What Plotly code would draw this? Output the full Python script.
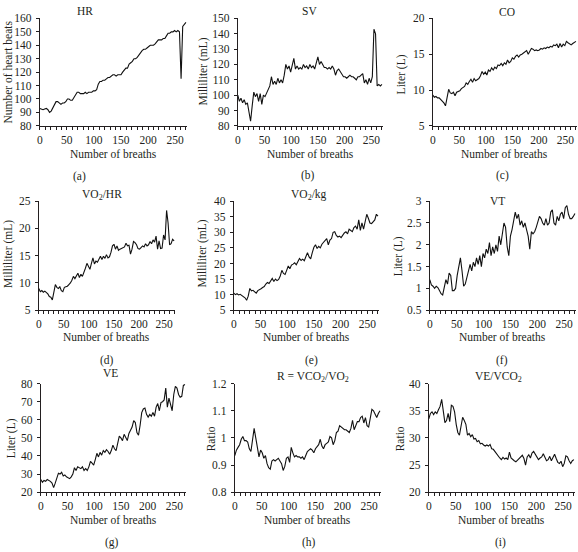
import plotly.graph_objects as go

W, H = 578, 552

BREATHS = list(range(0, 271, 3))

HR = [93, 92.5, 92, 92.5, 93, 92, 90, 91, 93, 96, 98, 98, 97, 96, 97, 97, 98, 100, 100, 99,
      99, 101, 103, 105, 105, 104, 104, 104, 105, 104, 105, 105, 105, 106, 106, 107, 111, 113, 113, 114,
      114, 115, 116, 116, 117, 118, 118, 117, 118, 118, 118, 120, 122, 123, 123, 126, 127, 128, 130, 130,
      131, 133, 135, 136, 137, 137, 138, 139, 140, 140, 140, 141, 143, 144, 144, 144, 145, 145, 147, 149,
      149, 150, 150, 151, 150, 151, 150, 115, 154, 156, 157]

SV = [100, 96, 98, 95, 97, 94, 95, 90, 83, 93, 102, 99, 101, 96, 101, 94, 100, 99, 101, 103,
      106, 112, 107, 109, 107, 111, 108, 110, 108, 113, 120, 117, 119, 115, 119, 124, 117, 119, 117, 118,
      117, 120, 118, 119, 117, 120, 118, 119, 117, 121, 125, 120, 122, 120, 118, 118, 117, 118, 117, 119,
      117, 113, 116, 117, 115, 114, 112, 112, 111, 112, 113, 112, 112, 111, 110, 112, 112, 113, 114, 108,
      110, 107, 111, 108, 112, 143, 140, 106, 107, 106, 107]

CO = [9.3, 9.0, 9.1, 8.9, 8.9, 8.7, 8.5, 8.2, 7.8, 9.0, 10.1, 9.6, 9.5, 9.7, 9.2, 9.7, 9.8, 9.9, 10.2, 10.4,
      10.5, 11.0, 10.8, 11.2, 11.5, 11.1, 11.6, 11.3, 11.4, 11.6, 12.0, 12.6, 12.2, 12.5, 12.1, 12.8, 12.6, 13.1, 12.8, 13.2,
      13.0, 13.5, 13.4, 13.7, 13.4, 13.8, 13.6, 14.2, 13.8, 14.0, 14.5, 14.3, 14.7, 14.9, 14.6, 14.9, 15.0, 15.2, 15.3, 15.5,
      15.0, 15.4, 15.8, 15.7, 15.5, 15.6, 15.5, 15.6, 15.8, 15.7, 15.9, 15.8, 16.0, 15.9, 16.1, 16.0, 16.3, 16.2, 16.4, 15.9,
      16.5, 16.0, 16.4, 16.2, 16.8, 16.6, 16.4, 16.3, 16.5, 16.7, 16.8]

VO2_HR = [9.0, 8.4, 8.6, 8.3, 8.5, 8.2, 8.0, 7.5, 7.4, 6.9, 8.5, 9.7, 9.2, 9.0, 9.3, 8.6, 8.4, 9.2, 9.3, 9.4,
          9.7, 10.0, 10.5, 11.2, 10.8, 11.3, 11.8, 11.0, 11.6, 11.2, 11.8, 12.7, 13.6, 13.0, 12.5, 13.6, 14.6, 13.5, 14.0, 13.8,
          14.3, 14.9, 14.3, 14.9, 14.5, 15.2, 14.6, 14.8, 15.6, 16.8, 17.1, 16.2, 16.8, 16.0, 16.2, 16.3, 16.5, 16.6, 17.3, 16.8,
          16.9, 15.3, 16.2, 17.6, 17.4, 17.0, 16.3, 16.2, 16.5, 16.8, 16.6, 17.2, 16.8, 17.0, 17.6, 17.2, 17.9, 17.5, 18.6, 16.2,
          17.7, 16.3, 16.4, 18.8, 17.9, 23.3, 21.0, 17.0, 17.2, 18.0, 17.7]

VO2_KG = [10.5, 10.0, 10.3, 9.9, 10.1, 9.8, 9.4, 9.0, 8.2, 9.5, 12.0, 11.2, 11.4, 10.8, 10.5, 11.3, 11.5, 11.9, 12.3, 12.6,
          13.4, 13.9, 13.6, 14.5, 15.2, 14.2, 15.0, 14.5, 14.9, 16.0, 17.8, 16.8, 16.5, 17.8, 19.2, 18.3, 19.5, 19.8, 20.2, 19.6,
          20.5, 21.6, 21.0, 21.4, 20.9, 22.0, 23.5, 22.1, 21.5, 23.5, 25.2, 26.0, 24.8, 25.5, 25.0, 26.2, 26.8, 27.5, 28.0, 26.0,
          27.5, 28.0, 30.0, 30.2, 29.0, 28.5, 28.8, 28.3, 29.2, 29.8, 30.2, 29.5, 31.0, 30.5, 30.2, 31.5, 32.0, 31.0, 34.0, 30.6,
          33.0, 31.0, 33.5, 35.8, 34.5, 33.0, 32.8, 33.5, 34.0, 35.8, 35.2]

VT = [1.2, 1.08, 1.05, 1.0, 1.05, 1.02, 0.95, 0.88, 0.85, 1.05, 1.2, 1.1, 1.35, 1.3, 0.95, 0.95, 1.0, 1.3, 1.5, 1.7,
      1.4, 1.05, 1.1, 1.25, 1.45, 1.55, 1.4, 1.6, 1.5, 1.7, 1.55, 1.75, 1.5, 1.8, 1.7, 1.9, 1.8, 2.05, 1.75, 1.95,
      1.8, 2.0, 1.85, 2.2, 2.0, 2.3, 2.5, 2.4, 1.95, 1.75, 2.2, 2.35, 2.6, 2.75, 2.6, 2.7, 2.45, 2.55, 2.4, 2.5,
      2.35, 2.2, 1.9, 2.3, 2.25, 2.3, 2.4, 2.55, 2.65, 2.6, 2.5, 2.45, 2.6, 2.45, 2.5, 2.75, 2.8, 2.5, 2.45, 2.65,
      2.55, 2.7, 2.75, 2.6, 2.85, 2.9, 2.7, 2.6, 2.6, 2.65, 2.72]

VE = [27, 25.5, 26.5, 26, 27, 26.5, 26, 25, 22.5, 25, 28, 30.5, 30, 31, 29, 29.5, 28.5, 28, 27.5, 28.5,
      30, 33.5, 32, 34, 33.5, 33, 34, 32, 33, 32, 34, 37, 36, 35, 38, 41.5, 39.5, 42, 40.5, 43,
      42, 43.5, 42.5, 41, 43, 46, 44, 43, 47, 51, 50, 48.5, 52, 50, 48.5, 52.5, 54, 56, 59.5, 58.5,
      53, 51.5, 57, 64, 66, 66.5, 63, 61.5, 63, 62, 64, 62, 67, 69, 65, 69.5, 70, 71, 77.5, 67,
      72, 68, 65, 74, 78.5, 77.5, 74, 72.5, 73, 79, 79.5]

R = [0.935, 0.955, 0.965, 0.975, 0.995, 1.005, 0.99, 0.99, 0.985, 0.96, 0.95, 0.99, 1.035, 1.0, 0.96, 0.93, 0.955, 0.945, 0.925, 0.935,
     0.905, 0.89, 0.885, 0.915, 0.92, 0.915, 0.92, 0.925, 0.915, 0.905, 0.88, 0.895, 0.925, 0.93, 0.91, 0.965, 0.945, 0.93, 0.935, 0.93,
     0.93, 0.925, 0.93, 0.92, 0.935, 0.95, 0.955, 0.96, 0.955, 0.945, 0.96, 0.97, 0.975, 0.995, 0.97, 0.96, 0.975, 0.98, 0.985, 1.005,
     1.0, 0.975, 0.99, 1.02, 1.025, 1.045, 1.04, 1.035, 1.03, 1.03, 1.025, 1.02, 1.035, 1.065, 1.03, 1.045, 1.06, 1.06, 1.075, 1.08,
     1.055, 1.075, 1.045, 1.04, 1.08, 1.105, 1.1, 1.085, 1.075, 1.09, 1.1]

VE_VCO2 = [33.5, 34.5, 34.8, 34.3, 34.8, 34.5, 35.2, 35.8, 37.1, 35.0, 32.8, 33.2, 34.5, 33.0, 36.0, 35.8, 34.8, 32.5, 31.0, 30.5,
           32.0, 33.8, 33.2, 32.5, 30.5, 30.8, 30.2, 30.6, 29.8, 29.9, 29.3, 29.5, 28.9, 29.0, 28.7, 28.5, 28.7, 28.5, 28.8, 28.0,
           27.9, 27.5, 27.0, 26.5, 26.3, 26.0, 26.4, 26.1, 26.3, 26.0, 27.4, 26.3, 26.0, 25.8, 25.6, 25.9, 26.3, 26.5, 26.8, 26.2,
           25.0, 26.5, 26.9, 26.3, 27.2, 27.5, 27.0, 26.5, 26.0, 26.3, 26.5, 27.1, 26.3, 25.8, 26.0, 26.6, 25.8, 26.3, 27.0, 26.2,
           25.5, 25.3, 25.7, 24.7, 25.3, 26.7, 26.5, 25.8, 25.3, 25.8, 26.0]

TITLES = ["HR", "SV", "CO", "VO<sub>2</sub>/HR", "VO<sub>2</sub>/kg", "VT", "VE",
          "R = VCO<sub>2</sub>/VO<sub>2</sub>", "VE/VCO<sub>2</sub>"]
Y_TITLES = ["Number of heart beats", "Milliliter (mL)", "Liter (L)", "Milliliter (mL)", "Milliliter (mL)",
            "Liter (L)", "Liter (L)", "Ratio", "Ratio"]
X_TITLE = "Number of breaths"
LETTERS = ["(a)", "(b)", "(c)", "(d)", "(e)", "(f)", "(g)", "(h)", "(i)"]
Y_RANGES = [(80, 160, 10), (80, 150, 10), (5, 20, 5), (5, 25, 5), (5, 40, 5), (0.5, 3, 0.5),
            (20, 80, 10), (0.8, 1.2, 0.1), (20, 40, 5)]
SERIES = [HR, SV, CO, VO2_HR, VO2_KG, VT, VE, R, VE_VCO2]

# layout in pixels: (left, right, top, bottom) of plot area
BOXES = [(37, 185, 12.7, 122.5), (236, 382, 12.7, 122.5), (432, 577, 12.7, 122.5),
         (36, 173, 199.5, 311), (232, 378, 199.5, 311), (429, 576, 199.5, 311),
         (38, 184, 386, 497), (233, 380, 386, 497), (428, 575, 386, 497)]
TITLE_POS = [(82, 5), (308, 5), (507, 6), (100, 193), (308, 193), (497, 199), (108, 375), (312, 379), (498, 379)]
LETTER_POS = [(77, 174), (307, 173), (502, 173), (105, 362), (310, 362), (502, 362), (110, 548), (308, 548), (500, 548)]
XT_Y = [151, 151, 151, 338, 338, 338, 525, 525, 525]
YT_POS = [(5, 67), (202, 67), (401, 70), (5.5, 253), (201, 253), (397, 256), (8, 442), (209, 442), (399, 442)]

FONT = "Liberation Serif"
COL = "#231f20"

def px(x):
    return x / W

def py(y):
    return 1 - y / H

fig = go.Figure()
ann = []
for i, ys in enumerate(SERIES):
    assert len(ys) == len(BREATHS), (i, len(ys))
    n = "" if i == 0 else str(i + 1)
    fig.add_trace(go.Scatter(x=BREATHS, y=ys, mode="lines", line=dict(color="#111", width=1.1),
                             xaxis="x" + n, yaxis="y" + n, showlegend=False, hoverinfo="skip"))
    l, r, t, b = BOXES[i]
    lo, hi, dt = Y_RANGES[i]
    fig.layout["xaxis" + n] = dict(domain=[px(l), px(r)], range=[0, 272], anchor="y" + n,
                                    showline=True, linecolor=COL, linewidth=1, showgrid=False, zeroline=False,
                                    tick0=0, dtick=50, ticks="outside", ticklen=3, tickcolor=COL,
                                    ticklabeloverflow="allow",
                                    minor=dict(dtick=10, ticks="outside", ticklen=3, tickcolor=COL),
                                    tickfont=dict(family=FONT, size=11.5, color=COL))
    fig.layout["yaxis" + n] = dict(domain=[py(b), py(t)], range=[lo, hi], anchor="x" + n,
                                    showline=True, linecolor=COL, linewidth=1, showgrid=False, zeroline=False,
                                    tick0=lo, dtick=dt, ticks="outside", ticklen=3, tickcolor=COL,
                                    ticklabelstandoff=2,
                                    tickfont=dict(family=FONT, size=11.5, color=COL))
    tx, ty = TITLE_POS[i]
    ann.append(dict(x=px(tx), y=py(ty), text=TITLES[i], showarrow=False, xanchor="center", yanchor="middle"))
    lx, ly = LETTER_POS[i]
    ann.append(dict(x=px(lx), y=py(ly), text=LETTERS[i], showarrow=False, xanchor="center", yanchor="middle"))
    ann.append(dict(x=px((l + r) / 2), y=py(XT_Y[i]), text=X_TITLE, showarrow=False, xanchor="center", yanchor="middle"))
    yx, yy = YT_POS[i]
    ann.append(dict(x=px(yx), y=py(yy), text=Y_TITLES[i], showarrow=False, textangle=-90,
                    xanchor="center", yanchor="middle"))

for a in ann:
    a.update(xref="paper", yref="paper", font=dict(family=FONT, size=11.5, color=COL))

fig.update_layout(width=W, height=H, margin=dict(l=0, r=0, t=0, b=0),
                  paper_bgcolor="white", plot_bgcolor="white", annotations=ann)

fig.write_html("out.html", config={"displayModeBar": False},
               post_script="document.body.style.margin='0';document.body.style.overflow='hidden';")
